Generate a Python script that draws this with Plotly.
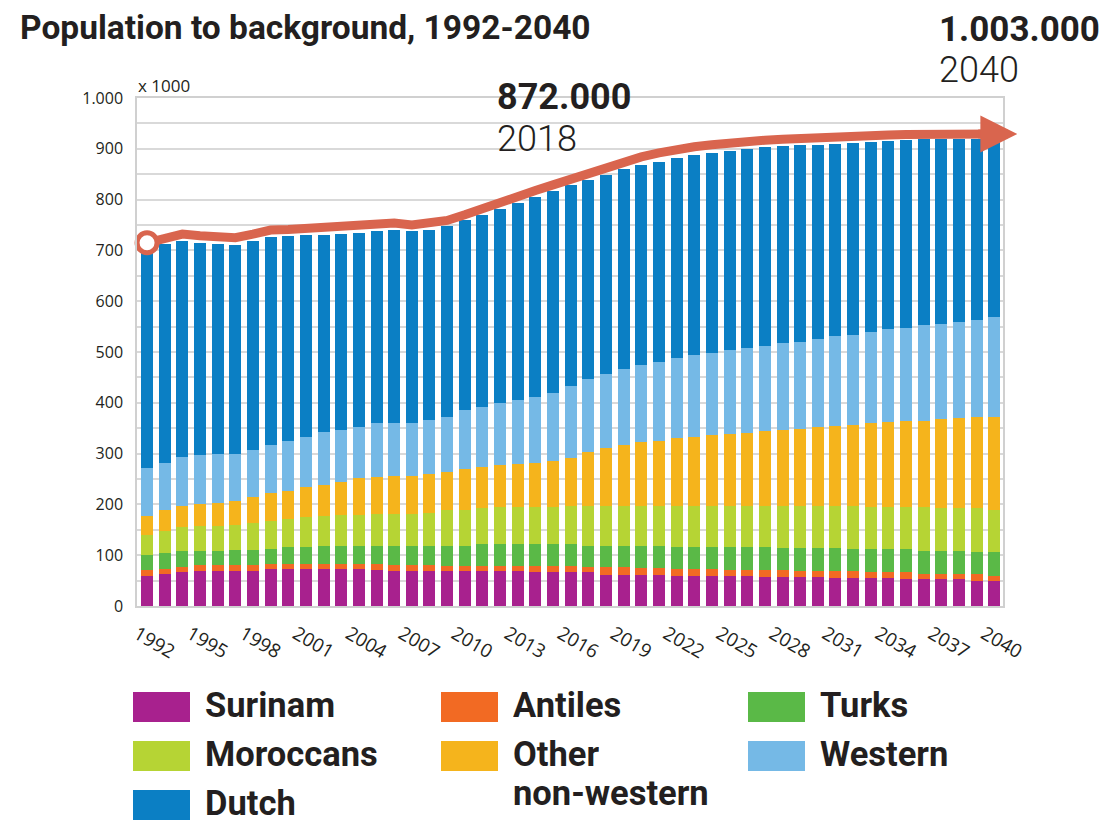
import plotly.graph_objects as go

# ---------------- data (x 1000 inhabitants) ----------------
years = list(range(1992, 2041))

surinam = [60, 63, 66, 68, 68, 68, 68, 72, 72, 72, 72, 72, 72, 71, 68, 68, 68,
           68, 68, 68, 68, 68, 66, 66, 66, 66, 62, 62, 62, 62, 60, 60, 60,
           60, 60, 58, 58, 58, 58, 56, 56, 56, 56, 53, 53, 53, 53, 50, 50]
antiles = [11, 10, 10, 12, 12, 12, 12, 10, 10, 10, 10, 10, 10, 11, 12, 12, 12,
           11, 11, 11, 11, 11, 13, 13, 13, 11, 14, 14, 13, 12, 13, 13, 13,
           11, 11, 13, 13, 10, 10, 12, 12, 10, 10, 13, 10, 10, 10, 13, 10]
turks = [29, 31, 32, 28, 28, 31, 31, 31, 35, 35, 37, 37, 37, 37, 39, 39, 39,
         40, 40, 43, 43, 43, 43, 43, 43, 42, 43, 43, 44, 45, 44, 44, 44,
         46, 46, 46, 43, 46, 46, 46, 44, 46, 46, 46, 45, 45, 45, 43, 46]
moroccans = [40, 44, 47, 49, 49, 48, 52, 55, 54, 58, 59, 61, 61, 62, 62, 62, 65,
             70, 70, 70, 72, 72, 72, 72, 75, 78, 78, 78, 78, 78, 79, 79, 79,
             80, 80, 80, 83, 83, 83, 83, 85, 82, 82, 82, 86, 84, 84, 86, 83]
other_non_western = [38, 41, 42, 43, 45, 48, 51, 54, 55, 59, 61, 65, 71, 72, 75, 75, 75,
                     74, 80, 82, 84, 86, 88, 91, 94, 107, 115, 120, 125, 128, 134, 137, 140,
                     141, 144, 147, 150, 151, 155, 158, 160, 166, 168, 171, 171, 176, 179, 181, 184]
western = [94, 93, 97, 97, 98, 93, 93, 95, 99, 99, 103, 102, 101, 108, 105, 105, 107,
           110, 116, 118, 122, 126, 130, 135, 142, 142, 145, 150, 153, 156, 158, 161, 163,
           166, 166, 168, 171, 172, 174, 177, 177, 179, 183, 182, 188, 187, 189, 190, 195]
dutch = [443, 431, 425, 418, 413, 411, 412, 410, 403, 397, 389, 385, 383, 378, 379, 378, 375,
         375, 375, 378, 381, 387, 393, 396, 395, 393, 392, 393, 393, 393, 393, 393, 392,
         392, 392, 391, 388, 387, 382, 377, 378, 374, 371, 370, 366, 364, 359, 356, 349]

# trend arrow drawn over the bars (last point = arrow tip)
trend_years = years + [2041.3]
trend_values = [715, 725, 732, 729, 727, 725, 732, 740, 741, 743, 744, 746, 748, 752, 754, 750, 753,
                759, 770, 783, 794, 806, 818, 829, 840, 852, 863, 875, 884, 892, 899, 904, 908,
                912, 915, 917, 919, 921, 922, 923, 925, 926, 927, 928, 929, 929, 929, 929, 929, 929]

series_names = ["Surinam", "Antiles", "Turks", "Moroccans", "Other non-western", "Western", "Dutch"]
series_values = [surinam, antiles, turks, moroccans, other_non_western, western, dutch]
series_colors = ["#a8218e", "#f26a23", "#5ab947", "#b6d434", "#f5b41c", "#75b9e6", "#0b7fc4"]
trend_color = "#d9654e"

tick_years = list(range(1992, 2041, 3))
y_tick_values = list(range(0, 1001, 50))
y_tick_labels = ["0", "", "100", "", "200", "", "300", "", "400", "", "500", "", "600", "",
                 "700", "", "800", "", "900", "", "1.000"]

title_text = "Population to background, 1992-2040"
unit_text = "x 1000"
callouts = [("872.000", "2018"), ("1.003.000", "2040")]

# ---------------- layout helpers (reference pixel coordinates) ----------------
PAGE_OFF = 8                            # default body margin of the html page
WIN_W, WIN_H = 1115, 823
PL, PR, PT, PB = 137, 1003, 98, 606     # plot area in window pixels


def px(x):
    return (x - PL) / (PR - PL)


def py(y):
    return (PB - y) / (PB - PT)


fig = go.Figure()
for name, vals, col in zip(series_names, series_values, series_colors):
    fig.add_trace(go.Bar(x=years, y=vals, name=name,
                         marker=dict(color=col, line=dict(width=0))))

# trend line
fig.add_trace(go.Scatter(
    x=trend_years, y=trend_values, mode="lines",
    line=dict(color=trend_color, width=9),
    showlegend=False, hoverinfo="skip"))
# start ring
fig.add_trace(go.Scatter(
    x=trend_years[:1], y=trend_values[:1], mode="markers", cliponaxis=False,
    marker=dict(symbol="circle", size=20, color="white",
                line=dict(color=trend_color, width=5)),
    showlegend=False, hoverinfo="skip"))

fig.update_layout(
    width=WIN_W - PAGE_OFF, height=WIN_H - PAGE_OFF,
    margin=dict(l=PL - PAGE_OFF, r=WIN_W - PR, t=PT - PAGE_OFF, b=WIN_H - PB, pad=0),
    barmode="stack", bargap=0.32,
    plot_bgcolor="white", paper_bgcolor="white",
    showlegend=False,
    font=dict(family="Open Sans", color="#231f20"),
)
fig.update_xaxes(range=[1991.43, 2040.49], tickmode="array", tickvals=tick_years,
                 ticktext=[str(y) for y in tick_years], tickangle=30,
                 showgrid=False, showline=True, linecolor="#d0d0d0", linewidth=1.5,
                 mirror=True, ticks="", tickfont=dict(size=19, color="#231f20"),
                 ticklabelshift=-10, ticklabelstandoff=8)
fig.update_yaxes(range=[0, 1000], tickmode="array", tickvals=y_tick_values,
                 ticktext=y_tick_labels, showgrid=True, gridcolor="#d9d9d9", gridwidth=1.5,
                 showline=True, linecolor="#d0d0d0", linewidth=1.5, mirror=True,
                 ticks="", zeroline=False, tickfont=dict(size=16, color="#231f20"),
                 ticklabelstandoff=9)

ann = []
# arrow head at the end of the trend line
ann.append(dict(text="", x=trend_years[-1], y=trend_values[-1], xref="x", yref="y",
                ax=trend_years[-3], ay=trend_values[-3], axref="x", ayref="y",
                showarrow=True, arrowhead=2, arrowsize=0.82, arrowwidth=9,
                arrowcolor=trend_color, standoff=0))
ann.append(dict(text="<b>" + title_text + "</b>", xref="paper", yref="paper",
                x=px(18), y=py(27), xanchor="left", yanchor="middle", showarrow=False,
                font=dict(family="Roboto", size=33.5, color="#231f20")))
ann.append(dict(text=unit_text, xref="paper", yref="paper", x=px(136), y=py(85),
                xanchor="left", yanchor="middle", showarrow=False,
                font=dict(family="Open Sans", size=17, color="#231f20")))
# callouts
call_pos = [(495, 97, 139, 36), (937, 29, 70, 35)]
for (big, small), (lx, yb, ys, fs) in zip(callouts, call_pos):
    ann.append(dict(text="<b>" + big + "</b>", xref="paper", yref="paper", x=px(lx), y=py(yb),
                    xanchor="left", yanchor="middle", showarrow=False,
                    font=dict(family="Roboto", size=fs, color="#231f20")))
    ann.append(dict(text=small, xref="paper", yref="paper", x=px(lx), y=py(ys),
                    xanchor="left", yanchor="middle", showarrow=False,
                    font=dict(family="Roboto", size=36, color="#231f20", weight=300)))

# custom legend (3 columns)
shapes = []
col_x = [133, 441, 748]
row_y = [707, 756, 805]
legend_labels = [["Surinam"], ["Antiles"], ["Turks"], ["Moroccans"],
                 ["Other", "non-western"], ["Western"], ["Dutch"]]
for i, (lab, col) in enumerate(zip(legend_labels, series_colors)):
    c, r = i % 3, i // 3
    x0 = col_x[c]
    yc = row_y[r]
    shapes.append(dict(type="rect", xref="paper", yref="paper",
                       x0=px(x0), x1=px(x0 + 57), y0=py(yc - 15), y1=py(yc + 15),
                       fillcolor=col, line=dict(width=0)))
    for k, line_txt in enumerate(lab):
        ann.append(dict(text="<b>" + line_txt + "</b>", xref="paper", yref="paper",
                        x=px(x0 + 70), y=py(yc - 2 + k * 39), xanchor="left", yanchor="middle",
                        showarrow=False, height=32,
                        font=dict(family="Roboto", size=34.5, color="#231f20")))

fig.update_layout(annotations=ann, shapes=shapes)
fig.write_html("out.html")
